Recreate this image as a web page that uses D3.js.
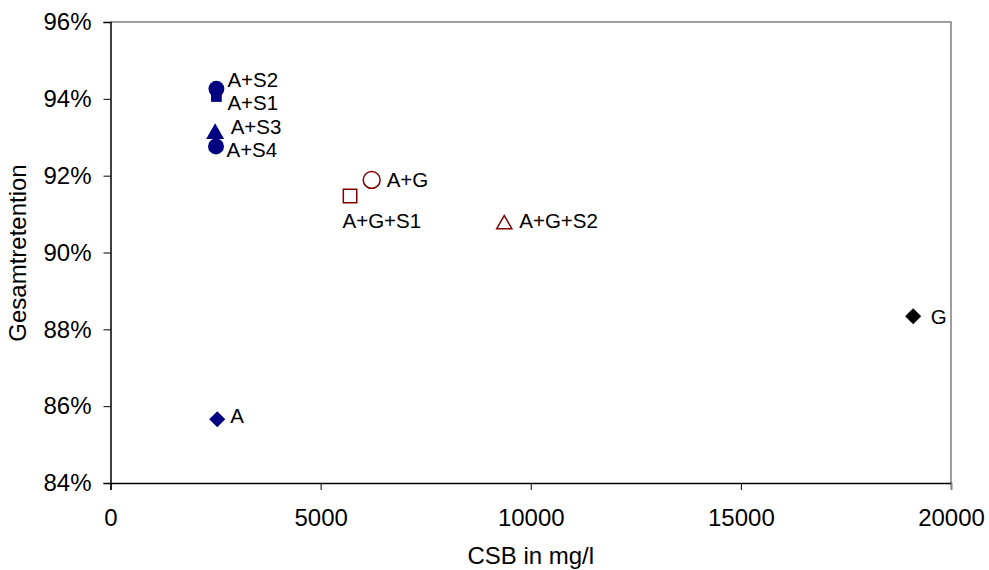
<!DOCTYPE html>
<html>
<head>
<meta charset="utf-8">
<script src="https://cdn.jsdelivr.net/npm/d3@7"></script>
<style>
  html, body { margin: 0; padding: 0; background: #fff; }
  svg { display: block; font-family: "Liberation Sans", Arial, sans-serif; }
</style>
</head>
<body>
<svg id="chart" width="989" height="570"></svg>
<script>
// Retention vs. COD per mixture
const labels    = ["A", "A+S1", "A+S2", "A+S3", "A+S4", "A+G", "A+G+S1", "A+G+S2", "G"];
const csb       = [2540, 2520, 2520, 2490, 2510, 6215, 5700, 9370, 19100];
const retention = [0.8566, 0.9406, 0.9426, 0.9316, 0.9276, 0.9189, 0.9147, 0.9079, 0.8834];
const shapes    = ["diamond", "square", "circle", "triangle", "circle", "circle", "square", "triangle", "diamond"];
const filled    = [true, true, true, true, true, false, false, false, true];
const colors    = ["#000080", "#000080", "#000080", "#000080", "#000080", "#800000", "#800000", "#800000", "#000000"];
// label placement relative to the marker: [dx, dy]
const labelOffsets = [[13, 3.5], [11, 13.5], [11, -2], [15.5, 3], [10.5, 11], [15, 7.5], [-7.5, 31.5], [15, 5.5], [17.5, 8]];

const xTicks = [0, 5000, 10000, 15000, 20000];
const yTicks = [0.84, 0.86, 0.88, 0.90, 0.92, 0.94, 0.96];

const svg = d3.select("#chart");
const margin = { left: 110.5, right: 38, top: 22, bottom: 87 };
const W = 989, H = 570;

const x = d3.scaleLinear().domain([0, 20000]).range([margin.left, W - margin.right]);
const y = d3.scaleLinear().domain([0.84, 0.96]).range([H - margin.bottom, margin.top]);

// plot frame (top and right in gray)
svg.append("path")
  .attr("d", `M${x(0)},${y(0.96)}H${x(20000)}V${y(0.84)}`)
  .attr("fill", "none").attr("stroke", "#808080").attr("stroke-width", 1.5);

const xAxis = svg.append("g")
  .attr("transform", `translate(0,${y(0.84)})`)
  .call(d3.axisBottom(x).tickValues(xTicks).tickSize(7).tickPadding(19).tickFormat(d3.format("d")));
const yAxis = svg.append("g")
  .attr("transform", `translate(${x(0)},0)`)
  .call(d3.axisLeft(y).tickValues(yTicks).tickSize(7).tickPadding(12).tickFormat(d3.format(".0%")));

[xAxis, yAxis].forEach(g => {
  g.attr("font-size", null).attr("font-family", null);
  g.select(".domain").attr("stroke", "#000").attr("stroke-width", 1.5);
  g.selectAll(".tick line").attr("stroke", "#000").attr("stroke-width", 1);
  g.selectAll("text").attr("font-size", 24).attr("fill", "#000");
});
// right frame tick at 20000 in gray
xAxis.selectAll(".tick").filter(d => d === 20000).select("line").attr("stroke", "#808080");

// axis titles
svg.append("text")
  .attr("x", (x(0) + x(20000)) / 2).attr("y", 564)
  .attr("text-anchor", "middle").attr("font-size", 24).text("CSB in mg/l");
svg.append("text")
  .attr("transform", `translate(26,253) rotate(-90)`)
  .attr("text-anchor", "middle").attr("font-size", 24).text("Gesamtretention");

const symbolType = {
  diamond: d3.symbolDiamond2 || d3.symbolDiamond,
  square: d3.symbolSquare,
  circle: d3.symbolCircle,
  triangle: d3.symbolTriangle
};
// marker areas, filled / open
const sizeFilled = { diamond: 165, square: 115, circle: 200, triangle: 140 };
const sizeOpen   = { diamond: 165, square: 180, circle: 225, triangle: 100 };

const data = labels.map((l, i) => ({
  label: l, x: csb[i], y: retention[i], shape: shapes[i],
  filled: filled[i], color: colors[i], off: labelOffsets[i]
}));

const pts = svg.append("g");
data.forEach(d => {
  const sz = d.filled ? sizeFilled[d.shape] : sizeOpen[d.shape];
  // center the triangle's bounding box on the data point
  const h = Math.sqrt(sz * 4 / Math.sqrt(3)) * Math.sqrt(3) / 2;
  const yShift = d.shape === "triangle" ? h / 6 : 0;
  pts.append("path")
    .attr("d", d3.symbol().type(symbolType[d.shape]).size(sz)())
    .attr("transform", `translate(${x(d.x)},${y(d.y) + yShift})`)
    .attr("fill", d.filled ? d.color : "none")
    .attr("stroke", d.color)
    .attr("stroke-width", d.filled ? 0 : 1.5);
});

svg.append("g").selectAll("text").data(data).join("text")
  .attr("x", d => x(d.x) + d.off[0])
  .attr("y", d => y(d.y) + d.off[1])
  .attr("font-size", 20.5).attr("fill", "#000")
  .text(d => d.label);
</script>
</body>
</html>
